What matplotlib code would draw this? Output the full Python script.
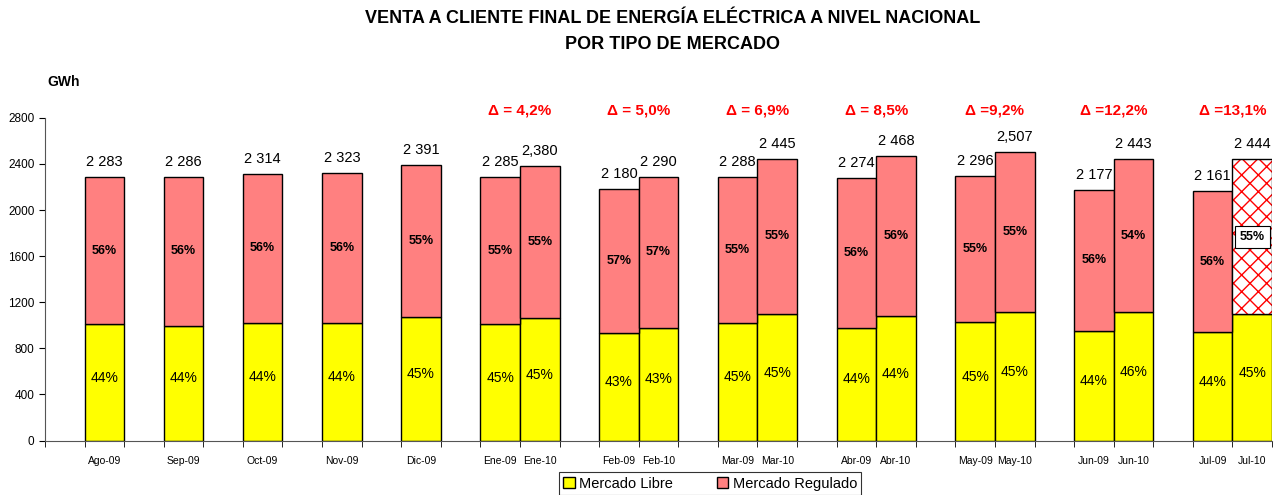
import matplotlib
matplotlib.use("Agg")
import matplotlib.pyplot as plt
from matplotlib.patches import Patch

plt.rcParams['font.family'] = ['Liberation Sans', 'DejaVu Sans']
plt.rcParams['hatch.linewidth'] = 1.0

# data
months = ["Ago-09", "Sep-09", "Oct-09", "Nov-09", "Dic-09",
          "Ene-09", "Ene-10", "Feb-09", "Feb-10", "Mar-09", "Mar-10",
          "Abr-09", "Abr-10", "May-09", "May-10", "Jun-09", "Jun-10",
          "Jul-09", "Jul-10"]
total = [2283, 2286, 2314, 2323, 2391, 2285, 2380, 2180, 2290, 2288, 2445,
         2274, 2468, 2296, 2507, 2177, 2443, 2161, 2444]
total_lbl = ["2 283", "2 286", "2 314", "2 323", "2 391", "2 285", "2,380",
             "2 180", "2 290", "2 288", "2 445", "2 274", "2 468", "2 296",
             "2,507", "2 177", "2 443", "2 161", "2 444"]
libre = [1012, 997, 1020, 1020, 1069, 1011, 1060, 931, 980, 1020, 1100,
         980, 1080, 1031, 1112, 954, 1112, 939, 1094]
pct_libre = [44, 44, 44, 44, 45, 45, 45, 43, 43, 45, 45, 44, 44, 45, 45, 44, 46, 44, 45]
pct_reg = [56, 56, 56, 56, 55, 55, 55, 57, 57, 55, 55, 56, 56, 55, 55, 56, 54, 56, 55]
deltas = ["Δ = 4,2%", "Δ = 5,0%", "Δ = 6,9%", "Δ = 8,5%", "Δ =9,2%", "Δ =12,2%", "Δ =13,1%"]

regulado = [t - l for t, l in zip(total, libre)]

# slot layout: 5 single months then 7 pairs, one empty slot between groups
pos = []
slot = 1
for i in range(5):
    pos.append(slot + 0.5)
    slot += 2
pair_centers = []
for i in range(7):
    pos.append(slot + 0.5)
    pos.append(slot + 1.5)
    pair_centers.append(slot + 1)
    slot += 3
nslots = slot - 1

YEL = "#FFFF00"
PINK = "#FF8080"

fig = plt.figure(figsize=(12.84, 4.95), dpi=100)
ax = fig.add_axes([0.035, 0.110, 0.9557, 0.652])

n = len(months)
last = n - 1
ax.bar(pos, libre, width=1.0, color=YEL, edgecolor="black", linewidth=1.0, zorder=2)
ax.bar(pos[:last], regulado[:last], bottom=libre[:last], width=1.0, color=PINK,
       edgecolor="black", linewidth=1.0, zorder=2)
# last bar: hatched (provisional)
ax.bar(pos[last], regulado[last], bottom=libre[last], width=1.0, color="white",
       edgecolor="red", hatch="xx", linewidth=0, zorder=2)
ax.bar(pos[last], regulado[last], bottom=libre[last], width=1.0, fill=False,
       edgecolor="black", linewidth=1.0, zorder=3)

for i in range(n):
    ax.text(pos[i], total[i] + 70, total_lbl[i], ha="center", va="bottom", fontsize=10.5)
    ax.text(pos[i], libre[i] / 2 + 40, f"{pct_libre[i]}%", ha="center", va="center", fontsize=10)
    if i == last:
        ax.text(pos[i], libre[i] + regulado[i] / 2, f"{pct_reg[i]}%", ha="center", va="center",
                fontsize=9, fontweight="bold", zorder=4,
                bbox=dict(boxstyle="square,pad=0.4", facecolor="white", edgecolor="black", linewidth=0.8))
    else:
        ax.text(pos[i], libre[i] + regulado[i] / 2, f"{pct_reg[i]}%", ha="center", va="center",
                fontsize=9, fontweight="bold")

for c, d in zip(pair_centers, deltas):
    ax.text(c, 2865, d, ha="center", va="center", fontsize=11, fontweight="bold",
            color="red", clip_on=False)

ax.set_xlim(0, nslots)
ax.set_ylim(0, 2800)
ax.set_yticks(range(0, 2801, 400))
ax.tick_params(axis="y", labelsize=8.5, length=4, direction="out")
ax.set_xticks(pos)
ax.set_xticklabels(months, fontsize=7.5)
ax.tick_params(axis="x", length=0, pad=11)
ax.set_xticks(range(0, nslots + 1), minor=True)
ax.tick_params(axis="x", which="minor", length=4, direction="out")
for s in ["top", "right"]:
    ax.spines[s].set_visible(False)
ax.spines["left"].set_color("#555555")
ax.spines["bottom"].set_color("#555555")

fig.text(0.037, 0.835, "GWh", fontsize=10, fontweight="bold", ha="left", va="center")
fig.text(0.524, 0.962, "VENTA A CLIENTE FINAL DE ENERGÍA ELÉCTRICA A NIVEL NACIONAL",
         ha="center", va="center", fontsize=13, fontweight="bold")
fig.text(0.524, 0.910, "POR TIPO DE MERCADO", ha="center", va="center", fontsize=13, fontweight="bold")

handles = [Patch(facecolor=YEL, edgecolor="black", label="Mercado Libre"),
           Patch(facecolor=PINK, edgecolor="black", label="Mercado Regulado")]
leg = fig.legend(handles=handles, loc="upper center", bbox_to_anchor=(0.553, 0.046),
                 ncol=2, fontsize=10.5, frameon=True, fancybox=False, edgecolor="black",
                 handlelength=0.8, handleheight=0.8, handletextpad=0.3, columnspacing=3.0,
                 borderpad=0.3, borderaxespad=0)
leg.get_frame().set_linewidth(0.8)

fig.savefig("out.png", dpi=100)
